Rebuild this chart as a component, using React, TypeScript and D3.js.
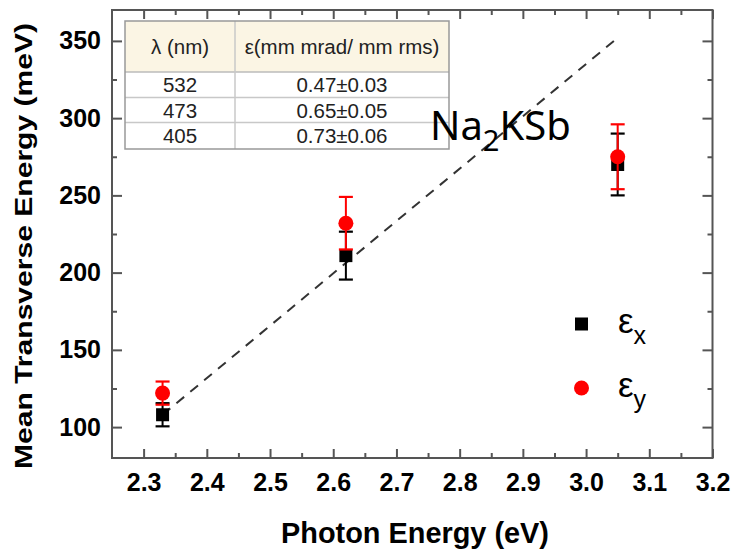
import * as d3 from "d3";
import { useEffect, useRef } from "react";

// photon energy (eV) of the three laser lines
const photonEnergy = [2.33, 2.62, 3.05];
// mean transverse energy (meV)
const mteX = [108, 211, 270];
const mteXErr = [7.5, 15.5, 20];
const mteY = [122, 232, 275];
const mteYErr = [7.5, 17, 21];
// dashed guide line
const guideEnergy = [2.33, 3.05];
const guideMte = [108, 352];

const xTicks = [2.3, 2.4, 2.5, 2.6, 2.7, 2.8, 2.9, 3.0, 3.1, 3.2];
const xMinorTicks = [2.35, 2.45, 2.55, 2.65, 2.75, 2.85, 2.95, 3.05, 3.15];
const yTicks = [100, 150, 200, 250, 300, 350];
const yMinorTicks = [125, 175, 225, 275, 325];

const tableHeaders = ["λ (nm)", "ε(mm mrad/ mm rms)"];
const tableWavelength = ["532", "473", "405"];
const tableEmittance = ["0.47±0.03", "0.65±0.05", "0.73±0.06"];

const legendLabels = ["x", "y"];

const FONT = "'Liberation Sans', Arial, sans-serif";
const AXIS = "#555";

function drawChart(svgElement: SVGSVGElement) {
  const width = 733;
  const height = 554;
  const plot = { left: 112, right: 712.5, top: 10, bottom: 458 };
  const svg = d3.select(svgElement);

  svg.selectAll("*").remove();
  svg.attr("width", width).attr("height", height).attr("viewBox", `0 0 ${width} ${height}`);
  svg.append("rect").attr("width", width).attr("height", height).attr("fill", "#fff");

  const x = d3.scaleLinear().domain([2.25, 3.2]).range([plot.left, plot.right]);
  const y = d3.scaleLinear().domain([80, 370]).range([plot.bottom, plot.top]);

  const styleAxis = (g: any, withText: boolean) => {
    g.select(".domain").remove();
    g.selectAll("line").attr("stroke", AXIS).attr("stroke-width", 2);
    if (withText) {
      g.selectAll("text")
        .attr("font-size", 25)
        .attr("font-weight", "bold")
        .attr("font-family", FONT)
        .attr("fill", "#000");
    } else {
      g.selectAll("text").remove();
    }
  };

  // bottom / top
  styleAxis(
    svg
      .append("g")
      .attr("transform", `translate(0,${plot.bottom})`)
      .call(
        d3
          .axisBottom(x)
          .tickValues(xTicks)
          .tickSizeInner(-9)
          .tickSizeOuter(0)
          .tickPadding(15)
          .tickFormat(d3.format(".1f") as any)
      ),
    true
  );
  styleAxis(
    svg
      .append("g")
      .attr("transform", `translate(0,${plot.bottom})`)
      .call(d3.axisBottom(x).tickValues(xMinorTicks).tickSizeInner(-5).tickSizeOuter(0)),
    false
  );
  styleAxis(
    svg
      .append("g")
      .attr("transform", `translate(0,${plot.top})`)
      .call(d3.axisTop(x).tickValues(xTicks).tickSizeInner(-9).tickSizeOuter(0)),
    false
  );
  styleAxis(
    svg
      .append("g")
      .attr("transform", `translate(0,${plot.top})`)
      .call(d3.axisTop(x).tickValues(xMinorTicks).tickSizeInner(-5).tickSizeOuter(0)),
    false
  );

  // left / right
  styleAxis(
    svg
      .append("g")
      .attr("transform", `translate(${plot.left},0)`)
      .call(d3.axisLeft(y).tickValues(yTicks).tickSizeInner(-10).tickSizeOuter(0).tickPadding(11)),
    true
  );
  styleAxis(
    svg
      .append("g")
      .attr("transform", `translate(${plot.left},0)`)
      .call(d3.axisLeft(y).tickValues(yMinorTicks).tickSizeInner(-5).tickSizeOuter(0)),
    false
  );
  styleAxis(
    svg
      .append("g")
      .attr("transform", `translate(${plot.right},0)`)
      .call(d3.axisRight(y).tickValues(yTicks).tickSizeInner(-10).tickSizeOuter(0)),
    false
  );
  styleAxis(
    svg
      .append("g")
      .attr("transform", `translate(${plot.right},0)`)
      .call(d3.axisRight(y).tickValues(yMinorTicks).tickSizeInner(-5).tickSizeOuter(0)),
    false
  );

  svg
    .append("rect")
    .attr("x", plot.left)
    .attr("y", plot.top)
    .attr("width", plot.right - plot.left)
    .attr("height", plot.bottom - plot.top)
    .attr("fill", "none")
    .attr("stroke", AXIS)
    .attr("stroke-width", 2);

  // axis titles
  svg
    .append("text")
    .attr("x", 415)
    .attr("y", 543)
    .attr("text-anchor", "middle")
    .attr("font-family", FONT)
    .attr("font-weight", "bold")
    .attr("font-size", 30)
    .attr("textLength", 268)
    .attr("lengthAdjust", "spacingAndGlyphs")
    .text("Photon Energy (eV)");

  svg
    .append("text")
    .attr("transform", `translate(32,246) rotate(-90)`)
    .attr("text-anchor", "middle")
    .attr("font-family", FONT)
    .attr("font-weight", "bold")
    .attr("font-size", 24)
    .attr("textLength", 446)
    .attr("lengthAdjust", "spacingAndGlyphs")
    .text("Mean Transverse Energy (meV)");

  // dashed guide
  const guide = d3
    .line<number>()
    .x((d) => x(d))
    .y((_, i) => y(guideMte[i]));
  svg
    .append("path")
    .attr("d", guide(guideEnergy))
    .attr("fill", "none")
    .attr("stroke", "#333")
    .attr("stroke-width", 2)
    .attr("stroke-dasharray", "10,8");

  // error bars + markers
  const drawSeries = (values: number[], errs: number[], color: string, shape: "square" | "circle") => {
    const g = svg.append("g");
    photonEnergy.forEach((e, i) => {
      const cx = x(e);
      const top = y(values[i] + errs[i]);
      const bot = y(values[i] - errs[i]);
      g.append("line").attr("x1", cx).attr("x2", cx).attr("y1", top).attr("y2", bot).attr("stroke", color).attr("stroke-width", 2);
      [top, bot].forEach((cy) =>
        g.append("line").attr("x1", cx - 7).attr("x2", cx + 7).attr("y1", cy).attr("y2", cy).attr("stroke", color).attr("stroke-width", 2.2)
      );
      if (shape === "square") {
        g.append("rect").attr("x", cx - 6.5).attr("y", y(values[i]) - 6.5).attr("width", 13).attr("height", 13).attr("fill", color);
      } else {
        g.append("circle").attr("cx", cx).attr("cy", y(values[i])).attr("r", 7.5).attr("fill", color);
      }
    });
  };
  drawSeries(mteX, mteXErr, "#000", "square");
  drawSeries(mteY, mteYErr, "#ff0000", "circle");

  // inset table
  const tb = { left: 125, right: 449, top: 21, header: 72, rows: [72, 97.5, 122.5, 149], split: 235 };
  const t = svg.append("g");
  t.append("rect")
    .attr("x", tb.left)
    .attr("y", tb.top)
    .attr("width", tb.right - tb.left)
    .attr("height", tb.header - tb.top)
    .attr("fill", "#fbf5e4");
  t.append("rect")
    .attr("x", tb.left)
    .attr("y", tb.header)
    .attr("width", tb.right - tb.left)
    .attr("height", tb.rows[3] - tb.header)
    .attr("fill", "#fff");
  tb.rows.slice(1, 3).forEach((ry) =>
    t.append("line").attr("x1", tb.left).attr("x2", tb.right).attr("y1", ry).attr("y2", ry).attr("stroke", "#c8c8c8").attr("stroke-width", 1.5)
  );
  t.append("line").attr("x1", tb.left).attr("x2", tb.right).attr("y1", tb.header).attr("y2", tb.header).attr("stroke", "#bbb").attr("stroke-width", 1.5);
  t.append("line").attr("x1", tb.split).attr("x2", tb.split).attr("y1", tb.top).attr("y2", tb.rows[3]).attr("stroke", "#c8c8c8").attr("stroke-width", 1.5);
  t.append("rect")
    .attr("x", tb.left)
    .attr("y", tb.top)
    .attr("width", tb.right - tb.left)
    .attr("height", tb.rows[3] - tb.top)
    .attr("fill", "none")
    .attr("stroke", "#999")
    .attr("stroke-width", 1.5);

  const col1 = (tb.left + tb.split) / 2;
  const col2 = (tb.split + tb.right) / 2;
  [col1, col2].forEach((cx, i) =>
    t.append("text")
      .attr("x", cx)
      .attr("y", (tb.top + tb.header) / 2 + 7)
      .attr("text-anchor", "middle")
      .attr("font-family", FONT)
      .attr("font-size", 20.5)
      .attr("fill", "#222")
      .text(tableHeaders[i])
  );
  tableWavelength.forEach((w, i) => {
    const cy = (tb.rows[i] + tb.rows[i + 1]) / 2 + 7.5;
    t.append("text").attr("x", col1).attr("y", cy).attr("text-anchor", "middle").attr("font-family", FONT).attr("font-size", 20.5).attr("fill", "#222").text(w);
    t.append("text").attr("x", col2).attr("y", cy).attr("text-anchor", "middle").attr("font-family", FONT).attr("font-size", 20.5).attr("fill", "#222").text(tableEmittance[i]);
  });

  // material label
  const mat = svg
    .append("text")
    .attr("x", 430)
    .attr("y", 140)
    .attr("font-family", "'Noto Sans', 'Open Sans', sans-serif")
    .attr("font-size", 40)
    .attr("fill", "#000");
  mat.append("tspan").text("Na");
  mat.append("tspan").attr("font-size", 29).attr("dy", 11).text("2");
  mat.append("tspan").attr("dy", -11).text("KSb");

  // legend
  const legendY = [324, 388];
  legendLabels.forEach((lab, i) => {
    if (i === 0) {
      svg.append("rect").attr("x", 575).attr("y", legendY[i] - 6.5).attr("width", 13).attr("height", 13).attr("fill", "#000");
    } else {
      svg.append("circle").attr("cx", 581.5).attr("cy", legendY[i]).attr("r", 7.5).attr("fill", "#ff0000");
    }
    const txt = svg
      .append("text")
      .attr("x", 618)
      .attr("y", legendY[i] + 9)
      .attr("font-family", FONT)
      .attr("font-size", 35)
      .attr("fill", "#000");
    txt.append("tspan").text("ε");
    txt.append("tspan").attr("font-size", 25).attr("dy", 11).text(lab);
  });
}

export default function App() {
  const svgRef = useRef<SVGSVGElement>(null);

  useEffect(() => {
    if (svgRef.current) drawChart(svgRef.current);
  }, []);

  return (
    <svg
      ref={svgRef}
      role="img"
      aria-label="Mean transverse energy vs photon energy"
      style={{ position: "absolute", left: 0, top: 0, display: "block" }}
    />
  );
}
